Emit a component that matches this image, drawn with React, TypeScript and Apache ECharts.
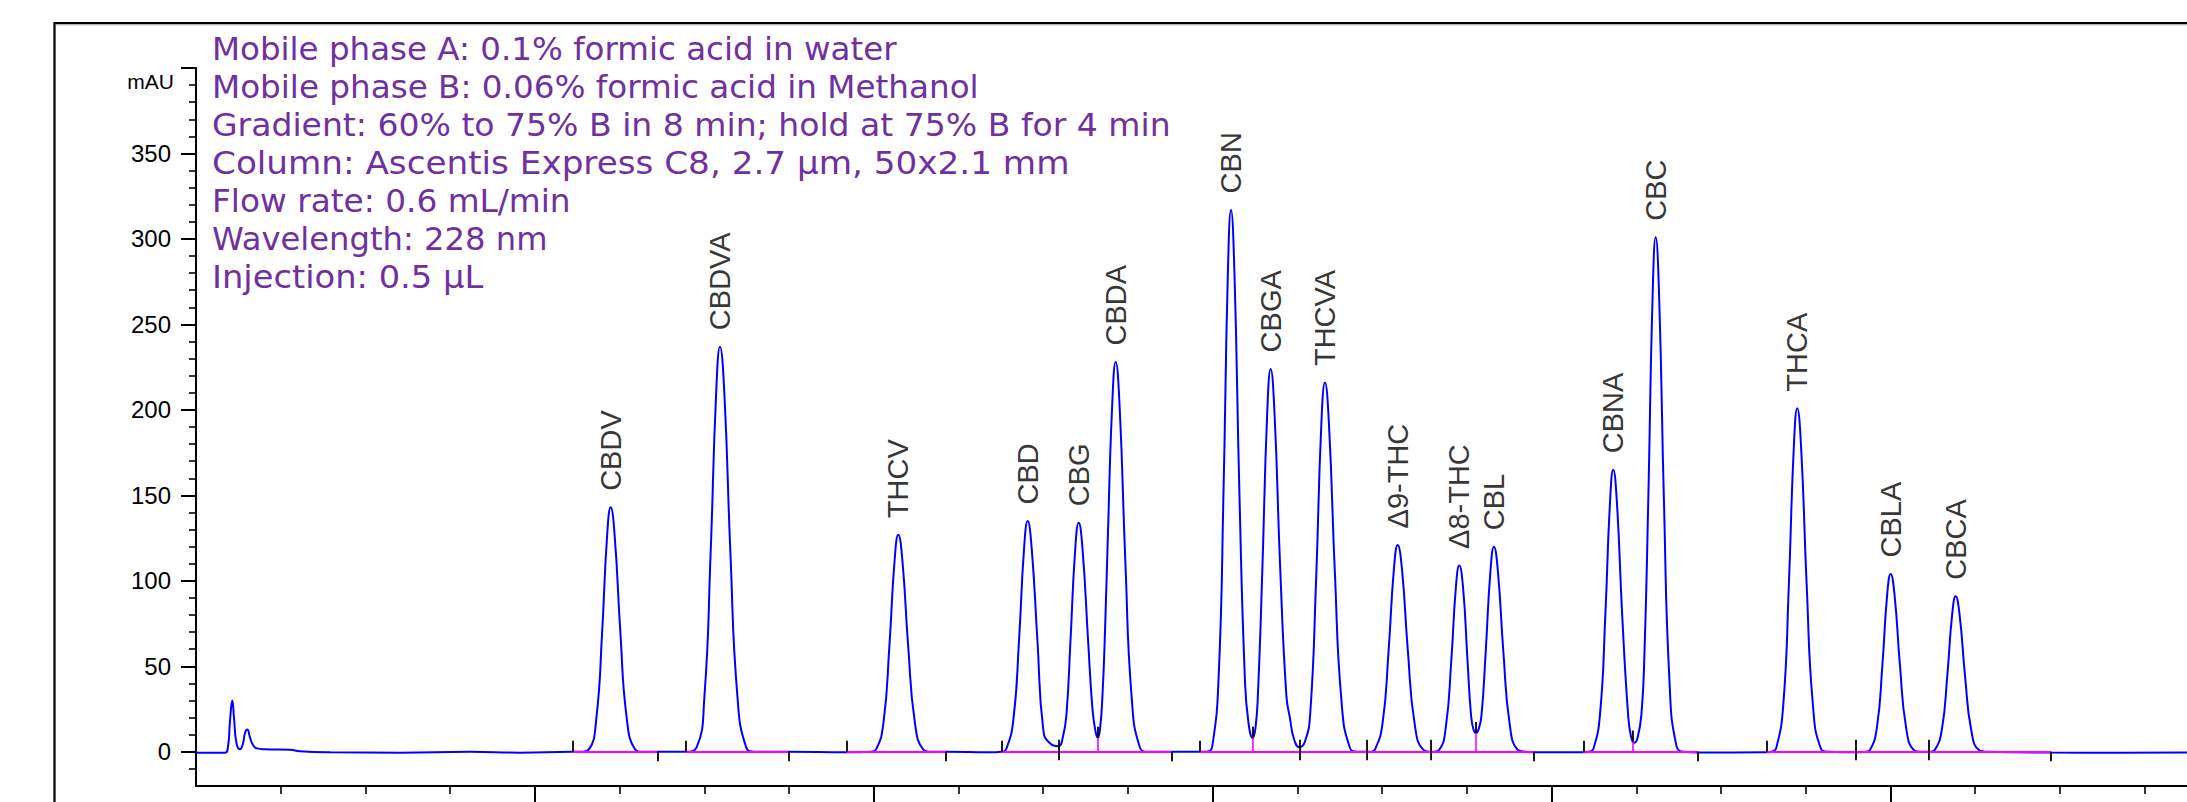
import { useEffect, useRef } from 'react';
import * as echarts from 'echarts';

// ---- Chromatogram trace (time in min, absorbance in mAU) ----
const injectionTrace: [number, number][] = [
  [0, -0.5], [0.0856, -0.5], [0.0944, 3], [0.1003, 18], [0.1071, 30], [0.1121, 20], [0.1195, 5],
  [0.1298, 1.5], [0.1387, 5], [0.1446, 11], [0.1514, 13], [0.1593, 8.5], [0.1682, 4], [0.18, 2],
  [0.2036, 1.5], [0.2774, 1.2], [0.3069, 0.3], [0.3954, -0.3], [0.6019, -0.5], [0.8085, 0],
  [0.956, -0.5], [1.1095, 0], [1.1331, 0],
];
const cbdvTrace: [number, number][] = [
  [1.1599, 1.6], [1.1812, 19.3], [1.1983, 69.6], [1.213, 126.1], [1.2237, 143], [1.2355, 126.1],
  [1.2523, 69.6], [1.2712, 19.3], [1.2951, 1.6], [1.319, 0], [1.3603, 0], [1.4429, 0],
];
const cbdvaTrace: [number, number][] = [
  [1.4771, 2.6], [1.5001, 32], [1.5184, 115.4], [1.5347, 209], [1.5462, 237], [1.5592, 209],
  [1.5771, 115.4], [1.5978, 32], [1.6235, 2.6], [1.6494, 0], [1.7468, 0], [1.9209, -0.3], [1.99, 0],
];
const thcvTrace: [number, number][] = [
  [2.0068, 1.4], [2.0286, 17.1], [2.046, 61.8], [2.0614, 112], [2.0723, 127], [2.0844, 112],
  [2.1015, 61.8], [2.1213, 17.1], [2.1457, 1.4], [2.1697, 0], [2.213, 0], [2.3429, -0.3], [2.3774, 0],
];
const cbdCbgCbdaTrace: [number, number][] = [
  [2.3904, 1.5], [2.4116, 18.2], [2.4287, 65.7], [2.4435, 119.1], [2.4541, 135], [2.4659, 119.1],
  [2.4827, 65.7], [2.5007, 12], [2.5199, 5], [2.545, 3.3], [2.5583, 9], [2.5686, 22], [2.5804, 65],
  [2.5943, 118.2], [2.6046, 134], [2.6161, 118.2], [2.6323, 65.3], [2.6453, 25], [2.6542, 12],
  [2.6607, 8.2], [2.6674, 13], [2.6748, 33], [2.6822, 70], [2.691, 128], [2.7031, 201], [2.7138, 228],
  [2.7256, 201.1], [2.7424, 111], [2.7613, 30.8], [2.7852, 2.5], [2.8091, 0], [2.8799, 0], [2.9625, 0],
  [2.986, 0.2],
];
const cbnCbgaThcvaTrace: [number, number][] = [
  [2.9991, 3.5], [3.0174, 42.8], [3.0322, 154.4], [3.0448, 279.6], [3.054, 317], [3.0643, 279.6],
  [3.0785, 154.4], [3.095, 42.8], [3.1056, 17], [3.118, 8.2], [3.1263, 14], [3.1336, 34], [3.1463, 105],
  [3.1608, 197.6], [3.1711, 224], [3.1826, 197.6], [3.1989, 109.1], [3.2174, 33], [3.2281, 19.6],
  [3.2399, 7.5], [3.2561, 2.7], [3.2723, 6], [3.2877, 22], [3.3051, 100], [3.3204, 190.5], [3.3313, 216],
  [3.3434, 190.5], [3.3605, 105.2], [3.3803, 29.2], [3.4048, 2.4], [3.4287, 0], [3.465, 0],
];
const thcCblTrace: [number, number][] = [
  [3.4786, 1.3], [3.501, 16.3], [3.519, 58.9], [3.5347, 106.7], [3.5459, 121], [3.5586, 106.7],
  [3.576, 58.9], [3.596, 16.3], [3.6211, 1.3], [3.6471, 0], [3.6683, 1.2], [3.6881, 14.7], [3.704, 53.1],
  [3.7176, 96.1], [3.7276, 109], [3.7388, 96.1], [3.7518, 54], [3.7621, 22], [3.7695, 13], [3.7769, 11],
  [3.7843, 13], [3.7931, 21], [3.8052, 57], [3.8197, 105.8], [3.83, 120], [3.8415, 105.8], [3.8578, 58.4],
  [3.8764, 16.2], [3.8994, 1.3], [3.9244, 0], [3.948, -0.3], [4.0926, -0.3], [4.11, 0],
];
const cbnaCbcTrace: [number, number][] = [
  [4.1236, 1.8], [4.1431, 22.3], [4.1587, 80.4], [4.1723, 145.5], [4.182, 165], [4.1929, 145.5],
  [4.2083, 80.4], [4.2257, 22], [4.2343, 9], [4.2431, 5.3], [4.2534, 8], [4.2652, 22], [4.2741, 58],
  [4.2853, 146.6], [4.298, 265.5], [4.3072, 301], [4.3175, 265.5], [4.3316, 146.6], [4.3481, 40.6],
  [4.3686, 3.3], [4.3906, 0], [4.432, -0.4], [4.6355, -0.3], [4.65, 0],
];
const thcaTrace: [number, number][] = [
  [4.663, 2.2], [4.6836, 27.1], [4.7002, 97.9], [4.7146, 177.3], [4.725, 201], [4.7365, 177.3],
  [4.7527, 97.9], [4.7713, 27.1], [4.7943, 2.2], [4.8185, 0], [4.8982, -0.3], [4.925, 0],
];
const cblaTrace: [number, number][] = [
  [4.9395, 1.1], [4.9598, 14], [4.9761, 50.6], [4.9902, 91.7], [5.0006, 104], [5.0121, 91.7],
  [5.028, 50.6], [5.0463, 14], [5.069, 1.1], [5.0929, 0], [5.117, 0],
];
const cbcaTrace: [number, number][] = [
  [5.1304, 1.0], [5.1511, 12.3], [5.1676, 44.3], [5.182, 80.3], [5.1924, 91], [5.2039, 80.3],
  [5.2201, 44.3], [5.2387, 12.3], [5.2617, 1.0], [5.2877, 0], [5.4736, -0.4], [5.6771, -0.5], [5.8748, -0.4],
];

// ---- Peak table ----
const peakNames = ['CBDV', 'CBDVA', 'THCV', 'CBD', 'CBG', 'CBDA', 'CBN', 'CBGA', 'THCVA', 'Δ9-THC', 'Δ8-THC', 'CBL', 'CBNA', 'CBC', 'THCA', 'CBLA', 'CBCA'];
const peakTimes = [1.2237, 1.5462, 2.0723, 2.4541, 2.6046, 2.7138, 3.054, 3.1711, 3.3313, 3.5459, 3.7276, 3.83, 4.182, 4.3072, 4.725, 5.0006, 5.1924];
const peakHeights = [143, 237, 127, 135, 134, 228, 317, 224, 216, 121, 109, 120, 165, 301, 201, 104, 91];

// ---- Integration marks ----
const integrationStarts = [1.1112, 1.4438, 1.92, 2.3774, 2.9625, 4.0935, 4.6347];
const integrationEnds = [1.3612, 1.7477, 2.213, 2.879, 3.948, 4.4328, 5.4736];
const valleyTicks = [2.5465, 3.2556, 3.4544, 3.6432, 4.8982, 5.1136];
const dropTimes = [2.6607, 3.118, 3.7769, 4.2393];
const dropValleys = [8.2, 8.2, 11, 6];

// ---- Axis ticks ----
const xMajorTicks = [1, 2, 3, 4, 5];
const xMinorTicks = [0.25, 0.5, 0.75, 1.25, 1.5, 1.75, 2.25, 2.5, 2.75, 3.25, 3.5, 3.75, 4.25, 4.5, 4.75, 5.25, 5.5, 5.75];
const yMajorTicks = [0, 50, 100, 150, 200, 250, 300, 350, 400];
const yTickLabels = [0, 50, 100, 150, 200, 250, 300, 350];
const yMinorTicks = [-10, 10, 20, 30, 40, 60, 70, 80, 90, 110, 120, 130, 140, 160, 170, 180, 190, 210, 220, 230, 240, 260, 270, 280, 290, 310, 320, 330, 340, 360, 370, 380, 390];

const conditionLines = [
  'Mobile phase A: 0.1% formic acid in water',
  'Mobile phase B: 0.06% formic acid in Methanol',
  'Gradient: 60% to 75% B in 8 min; hold at 75% B for 4 min',
  'Column: Ascentis Express C8, 2.7 µm, 50x2.1 mm',
  'Flow rate: 0.6 mL/min',
  'Wavelength: 228 nm',
  'Injection: 0.5 µL',
];
// horizontal stretch per line, to match the original (Verdana-like) text widths
const conditionLineStretch = [1.0, 1.004, 1.017, 1.053, 1.008, 0.991, 1.038];

const X_MIN = 0;
const X_MAX = 5.875;
const Y_MIN = -20;
const Y_MAX = 400;

export default function App() {
  const ref = useRef<HTMLDivElement>(null);

  useEffect(() => {
    if (!ref.current) return;
    const chart = echarts.init(ref.current, null, { renderer: 'svg' });

    const trace = [
      ...injectionTrace, ...cbdvTrace, ...cbdvaTrace, ...thcvTrace, ...cbdCbgCbdaTrace,
      ...cbnCbgaThcvaTrace, ...thcCblTrace, ...cbnaCbcTrace, ...thcaTrace, ...cblaTrace, ...cbcaTrace,
    ];

    const baselineSegments = integrationStarts.map((s, i) => ({ coords: [[s, 0], [integrationEnds[i], 0]] }));
    const dropSegments = dropTimes.map((t, i) => ({ coords: [[t, 0], [t, dropValleys[i]]] }));
    const tickSegments = [
      ...integrationStarts.map((t) => ({ coords: [[t, 0], [t, 6.5]] })),
      ...integrationEnds.map((t) => ({ coords: [[t, -5.5], [t, 0]] })),
      ...valleyTicks.map((t) => ({ coords: [[t, -5], [t, 7]] })),
      ...dropTimes.map((t, i) => ({ coords: [[t, dropValleys[i]], [t, dropValleys[i] + 6.5]] })),
    ];

    const labelData = peakNames.map((n, i) => ({ name: n, value: [peakTimes[i], peakHeights[i]] }));

    const tickStyle = { color: '#000', width: 2 };

    const conditionTexts = conditionLines.map((line, i) => ({
      type: 'text', silent: true, z: 10, x: 212, y: 30 + 38 * i, scaleX: conditionLineStretch[i],
      style: {
        text: line, fill: '#7030A0', fontFamily: 'DejaVu Sans',
        fontSize: 32.5, lineHeight: 38, verticalAlign: 'top', align: 'left',
      },
    }));

    chart.setOption({
      animation: false,
      backgroundColor: '#ffffff',
      grid: { left: 196, right: 0, top: 68, bottom: 16, containLabel: false },
      xAxis: [
        {
          type: 'value', min: X_MIN, max: X_MAX, position: 'bottom',
          axisLine: { show: true, onZero: false, lineStyle: { color: '#000', width: 2 } },
          axisTick: { show: true, customValues: xMajorTicks, length: 16, lineStyle: tickStyle },
          axisLabel: { show: false },
          splitLine: { show: false },
        },
        {
          type: 'value', min: X_MIN, max: X_MAX, position: 'bottom',
          axisLine: { show: false, onZero: false },
          axisTick: { show: true, customValues: xMinorTicks, length: 8, lineStyle: { color: '#000', width: 1.6 } },
          axisLabel: { show: false },
          splitLine: { show: false },
        },
      ],
      yAxis: [
        {
          type: 'value', min: Y_MIN, max: Y_MAX, position: 'left',
          axisLine: { show: true, onZero: false, lineStyle: { color: '#000', width: 2 } },
          axisTick: { show: true, customValues: yMajorTicks, length: 15, lineStyle: tickStyle },
          axisLabel: {
            show: true, customValues: yTickLabels, margin: 25, color: '#000',
            fontFamily: 'Liberation Sans', fontSize: 24,
          },
          splitLine: { show: false },
        },
        {
          type: 'value', min: Y_MIN, max: Y_MAX, position: 'left',
          axisLine: { show: false, onZero: false },
          axisTick: { show: true, customValues: yMinorTicks, length: 7, lineStyle: { color: '#000', width: 1.6 } },
          axisLabel: { show: false },
          splitLine: { show: false },
        },
      ],
      graphic: [
        {
          type: 'rect', silent: true, z: 0,
          shape: { x: 54.5, y: 23, width: 2300, height: 900 },
          style: { fill: 'none', stroke: '#000', lineWidth: 2.2 },
        },
        {
          type: 'line', silent: true, z: 0,
          shape: { x1: 56, y1: 24.8, x2: 2187, y2: 24.8 },
          style: { stroke: '#9a9a9a', lineWidth: 1 },
        },
        ...conditionTexts,
        {
          type: 'text', silent: true, z: 10, x: 174, y: 81.5,
          style: {
            text: 'mAU', fill: '#000', fontFamily: 'Liberation Sans', fontSize: 21,
            align: 'right', verticalAlign: 'middle',
          },
        },
      ],
      series: [
        {
          type: 'line', name: 'UV 228 nm', xAxisIndex: 0, yAxisIndex: 0,
          data: trace, smooth: 0.5, symbol: 'none', showSymbol: false,
          lineStyle: { color: '#0000ff', width: 2 }, silent: true, z: 2,
        },
        {
          type: 'lines', coordinateSystem: 'cartesian2d', xAxisIndex: 0, yAxisIndex: 0,
          data: baselineSegments, silent: true, z: 3,
          lineStyle: { color: '#ff00ff', width: 2, opacity: 1, curveness: 0 },
        },
        {
          type: 'lines', coordinateSystem: 'cartesian2d', xAxisIndex: 0, yAxisIndex: 0,
          data: dropSegments, silent: true, z: 3,
          lineStyle: { color: '#ff00ff', width: 1.6, opacity: 1, curveness: 0 },
        },
        {
          type: 'lines', coordinateSystem: 'cartesian2d', xAxisIndex: 0, yAxisIndex: 0,
          data: tickSegments, silent: true, z: 4,
          lineStyle: { color: '#000', width: 1.8, opacity: 1, curveness: 0 },
        },
        {
          type: 'scatter', xAxisIndex: 0, yAxisIndex: 0, data: labelData,
          symbolSize: 1, itemStyle: { color: 'rgba(0,0,0,0)' }, silent: true, z: 5,
          label: {
            show: true, formatter: '{b}', position: 'top', distance: 16, rotate: 90,
            align: 'left', verticalAlign: 'middle', color: '#000',
            fontFamily: 'Liberation Sans', fontSize: 29,
          },
        },
      ],
    });

    return () => chart.dispose();
  }, []);

  return (
    <div
      ref={ref}
      style={{ position: 'fixed', left: 0, top: 0, width: 2187, height: 802, background: '#fff' }}
    />
  );
}
